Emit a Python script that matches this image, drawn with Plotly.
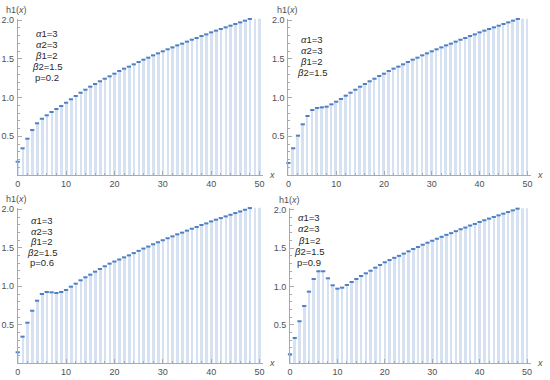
import plotly.graph_objects as go

# ---------------- data ----------------
x_vals = list(range(51))

h_p02 = [0.172, 0.345, 0.469, 0.581, 0.668, 0.727, 0.771, 0.814, 0.853, 0.891,
         0.934, 0.978, 1.021, 1.063, 1.102, 1.141, 1.176, 1.211, 1.244, 1.275,
         1.309, 1.344, 1.374, 1.400, 1.430, 1.460, 1.490, 1.516, 1.546, 1.572,
         1.598, 1.624, 1.649, 1.675, 1.697, 1.723, 1.748, 1.770, 1.796, 1.817,
         1.843, 1.865, 1.886, 1.908, 1.929, 1.951, 1.972, 1.994, 2.016, 2.037, 2.059]

h_p04 = [0.155, 0.345, 0.508, 0.655, 0.762, 0.840, 0.866, 0.874, 0.883, 0.913,
         0.947, 0.982, 1.025, 1.063, 1.102, 1.141, 1.176, 1.211, 1.244, 1.279,
         1.309, 1.344, 1.374, 1.400, 1.430, 1.460, 1.490, 1.516, 1.546, 1.572,
         1.598, 1.624, 1.649, 1.675, 1.697, 1.723, 1.748, 1.770, 1.796, 1.817,
         1.843, 1.865, 1.886, 1.908, 1.929, 1.951, 1.972, 1.994, 2.016, 2.037, 2.059]

h_p06 = [0.143, 0.346, 0.527, 0.683, 0.813, 0.900, 0.926, 0.922, 0.913, 0.926,
         0.952, 0.995, 1.034, 1.078, 1.117, 1.151, 1.190, 1.225, 1.260, 1.294,
         1.322, 1.348, 1.376, 1.402, 1.431, 1.460, 1.490, 1.516, 1.546, 1.572,
         1.598, 1.624, 1.649, 1.675, 1.697, 1.723, 1.748, 1.770, 1.796, 1.817,
         1.843, 1.865, 1.886, 1.908, 1.929, 1.951, 1.972, 1.994, 2.016, 2.037, 2.059]

h_p09 = [0.117, 0.330, 0.548, 0.747, 0.934, 1.099, 1.200, 1.200, 1.108, 1.017,
         0.973, 0.986, 1.021, 1.060, 1.099, 1.138, 1.173, 1.207, 1.247, 1.282,
         1.317, 1.346, 1.375, 1.401, 1.430, 1.460, 1.490, 1.516, 1.546, 1.572,
         1.598, 1.624, 1.649, 1.675, 1.697, 1.723, 1.748, 1.770, 1.796, 1.817,
         1.843, 1.865, 1.886, 1.908, 1.929, 1.951, 1.972, 1.994, 2.016, 2.037, 2.059]

param_lines = ["α1=3", "α2=3", "β1=2", "β2=1.5"]
p_labels = ["p=0.2", None, "p=0.6", "p=0.9"]
series = [h_p02, h_p04, h_p06, h_p09]

x_ticks = [0, 10, 20, 30, 40, 50]
y_ticks = [0.5, 1.0, 1.5, 2.0]
y_tick_text = ["0.5", "1.0", "1.5", "2.0"]

# ---------------- layout geometry (pixels) ----------------
W, H = 550, 380
# (x pixel of x=0, px per unit x, y pixel of y=0, px per unit y)
panels = [
    (17.7, 4.836, 175.0, 77.4),
    (288.4, 4.78, 175.0, 77.4),
    (17.7, 4.836, 363.3, 77.0),
    (290.0, 4.74, 363.3, 76.7),
]
# text block: (center x px, first line y px, line spacing)
text_pos = [(46.7, 33.0, 11.1), (311.5, 39.3, 11.0), (41.7, 220.7, 10.5), (309.3, 217.7, 11.2)]
XMAX, YMAX = 50.8, 2.02

FILL = "rgb(214,226,242)"
DASH = "rgb(80,128,196)"
AXC = "rgb(170,170,170)"
TXT = "rgb(80,80,80)"
FONT = "Liberation Sans, Arial, sans-serif"

fig = go.Figure()
layout = dict(width=W, height=H, margin=dict(l=0, r=0, t=0, b=0, autoexpand=False),
              template="none",
              paper_bgcolor="white", plot_bgcolor="white", showlegend=False,
              bargap=0, barmode="overlay", annotations=[])

for i, (x0, sx, y0, sy) in enumerate(panels):
    k = "" if i == 0 else str(i + 1)
    xa, ya = "x" + k, "y" + k
    fig.add_trace(go.Bar(x=x_vals, y=series[i], width=0.55, marker=dict(color=FILL, line=dict(width=0)),
                         xaxis=xa, yaxis=ya, cliponaxis=False, hoverinfo="skip"))
    fig.add_trace(go.Scatter(x=x_vals, y=series[i], mode="markers", xaxis=xa, yaxis=ya, cliponaxis=False,
                             marker=dict(symbol="line-ew", size=3, line=dict(width=2, color=DASH))))
    xd = [x0 / W, (x0 + XMAX * sx) / W]
    yd = [1 - y0 / H, 1 - (y0 - YMAX * sy) / H]
    common = dict(showgrid=False, zeroline=False, showline=True, linecolor=AXC, linewidth=1,
                  automargin=False,
                  ticks="inside", tickcolor=AXC, ticklen=4, tickwidth=1,
                  tickfont=dict(family=FONT, size=9, color=TXT))
    layout["xaxis" + k] = dict(domain=xd, range=[0, XMAX], anchor=ya, tickvals=x_ticks,
                               minor=dict(ticks="inside", dtick=2, tick0=0, ticklen=2, tickcolor=AXC),
                               **common)
    layout["yaxis" + k] = dict(domain=yd, range=[0, YMAX], anchor=xa, tickvals=y_ticks,
                               ticktext=y_tick_text, ticklabelstandoff=1,
                               minor=dict(ticks="inside", dtick=0.1, tick0=0, ticklen=2, tickcolor=AXC),
                               **common)
    # axis labels
    layout["annotations"].append(dict(text="h1(<i>x</i>)", xref="paper", yref="paper",
                                      x=(x0 - 1) / W, y=1 - (y0 - 2.13 * sy) / H,
                                      xanchor="center", yanchor="middle", showarrow=False,
                                      font=dict(family=FONT, size=9, color=TXT)))
    layout["annotations"].append(dict(text="<i>x</i>", xref="paper", yref="paper",
                                      x=(x0 + XMAX * sx + 9) / W, y=1 - y0 / H,
                                      xanchor="center", yanchor="middle", showarrow=False,
                                      font=dict(family=FONT, size=9, color=TXT)))
    # parameter text
    cx, ty, dy = text_pos[i]
    lines = list(param_lines) + ([p_labels[i]] if p_labels[i] else [])
    for j, s in enumerate(lines):
        if s[0] in "αβ":
            s = "<i>" + s[0] + "</i>" + s[1:]
        layout["annotations"].append(dict(text=s, xref="paper", yref="paper",
                                          x=cx / W, y=1 - (ty + j * dy) / H,
                                          xanchor="center", yanchor="middle", showarrow=False,
                                          font=dict(family=FONT, size=9.5, color="rgb(40,40,40)")))

fig.update_layout(**layout)
fig.write_html("out.html", config={"displayModeBar": False},
               post_script="document.body.style.margin='0';document.body.style.padding='0';")
